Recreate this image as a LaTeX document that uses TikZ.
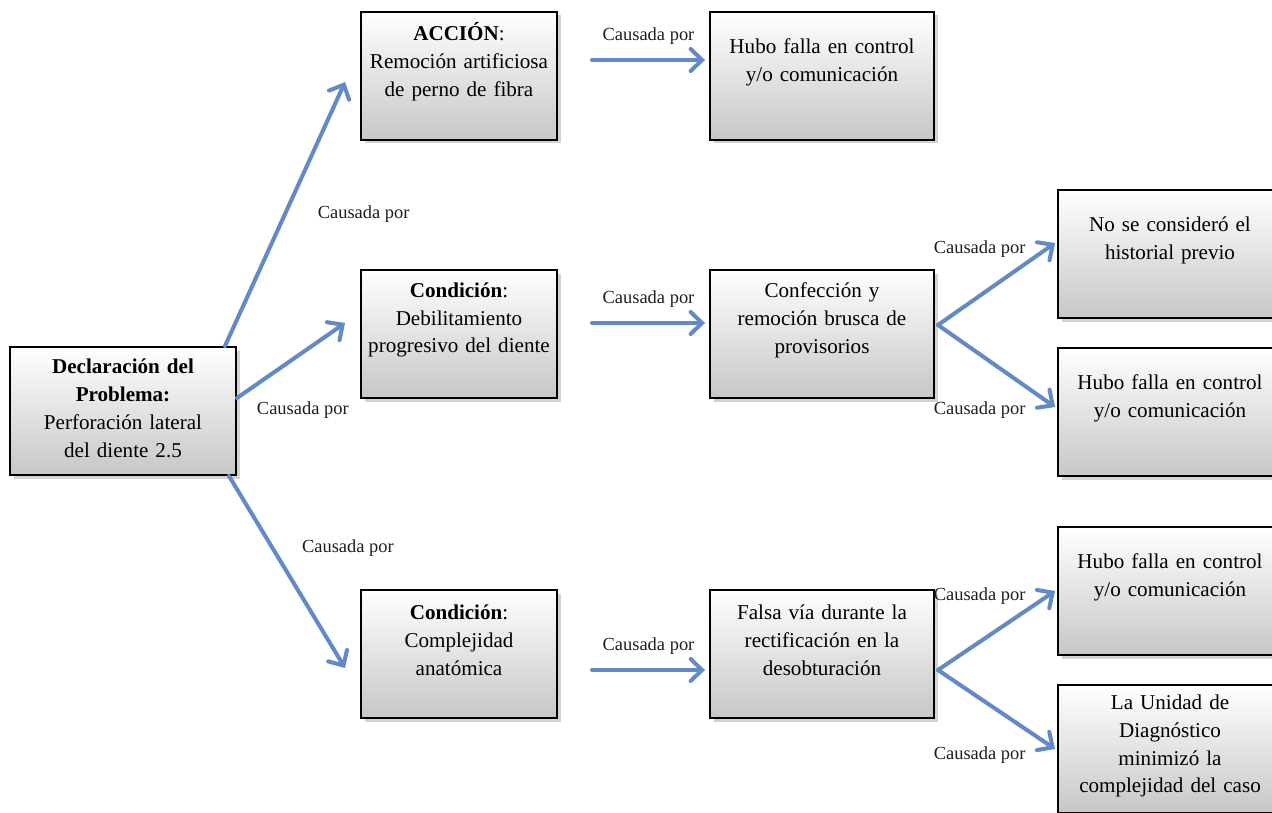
\documentclass[tikz,border=0pt]{standalone}
\usepackage{fontspec}
\setmainfont{Liberation Serif}
\usetikzlibrary{arrows.meta,shadows}
\definecolor{causeblue}{RGB}{98,138,198}
\definecolor{labelink}{RGB}{30,30,30}
\tikzset{
  boxpad/.store in=\boxpad, boxpad=0.56cm,
  box/.style={draw=black, line width=1.1pt, top color=white, bottom color=black!22,
    drop shadow={shadow xshift=0.07cm, shadow yshift=-0.07cm, opacity=0.35},
    align=center, text width=#1, minimum height=2.56cm, inner xsep=0pt, inner ysep=0.05cm,
    font=\fontsize{12}{15.9}\selectfont, execute at end node={\par\kern\boxpad}},
  box/.default={4.48cm},
  arrow/.style={-{Straight Barb[length=2.3mm, width=4.4mm, line cap=round]}, line width=2.3pt, draw=causeblue, line cap=round},
  lbl/.style={font=\fontsize{10.5}{12}\selectfont, text=labelink, inner sep=1pt}
}
\begin{document}
\begin{tikzpicture}
  \clip (0,0) rectangle (25.44,16.24);
  % problem statement and first level
  \node[box=4.52cm, boxpad=0.12cm] (prob) at (2.46,8.02) {\textbf{Declaración del}\\ \textbf{Problema:}\\ Perforación lateral\\ del diente 2.5};
  \node[box=3.92cm] (accion) at (9.18,14.72) {\textbf{ACCIÓN}:\\ Remoción artificiosa\\ de perno de fibra};
  \node[box=3.92cm] (debil) at (9.18,9.56) {\textbf{Condición}:\\ Debilitamiento\\ progresivo del diente};
  \node[box=3.92cm] (compl) at (9.18,3.16) {\textbf{Condición}:\\ Complejidad\\ anatómica};
  % second level
  \node[box] (falla1) at (16.44,14.72) {Hubo falla en control\\ y/o comunicación};
  \node[box] (confec) at (16.44,9.56) {Confección y\\ remoción brusca de\\ provisorios};
  \node[box] (falsa) at (16.44,3.16) {Falsa vía durante la\\ rectificación en la\\ desobturación};
  % third level
  \node[box] (histo) at (23.4,11.16) {No se consideró el\\ historial previo};
  \node[box] (falla2) at (23.4,8.0) {Hubo falla en control\\ y/o comunicación};
  \node[box] (falla3) at (23.4,4.42) {Hubo falla en control\\ y/o comunicación};
  \node[box, boxpad=0.12cm] (unidad) at (23.4,1.26) {La Unidad de\\ Diagnóstico\\ minimizó la\\ complejidad del caso};
  % connectors
  \draw[arrow] ([xshift=-0.24cm]prob.north east) -- node[lbl, pos=0.5, anchor=west, xshift=0.58cm] {Causada por} ([shift={(-0.3cm,-0.12cm)}]accion.west);
  \draw[arrow] ([yshift=0.26cm]prob.east) -- node[lbl, pos=0.15, anchor=north west, yshift=-0.22cm] {Causada por} ([shift={(-0.3cm,0.22cm)}]debil.west);
  \draw[arrow] ([xshift=-0.16cm]prob.south east) -- node[lbl, pos=0.36, anchor=west, xshift=0.55cm, yshift=-0.06cm] {Causada por} ([shift={(-0.3cm,-0.28cm)}]compl.west);
  \draw[arrow] ([shift={(0.68cm,0.32cm)}]accion.east) -- node[lbl, anchor=south, yshift=0.24cm] {Causada por} ([shift={(-0.08cm,0.32cm)}]falla1.west);
  \draw[arrow] ([shift={(0.68cm,0.22cm)}]debil.east) -- node[lbl, anchor=south, yshift=0.24cm] {Causada por} ([shift={(-0.08cm,0.22cm)}]confec.west);
  \draw[arrow] ([shift={(0.68cm,-0.32cm)}]compl.east) -- node[lbl, anchor=south, yshift=0.24cm] {Causada por} ([shift={(-0.08cm,-0.32cm)}]falsa.west);
  \draw[arrow] ([shift={(0.06cm,0.18cm)}]confec.east) -- node[lbl, pos=0.78, anchor=south east] {Causada por} ([shift={(-0.04cm,0.22cm)}]histo.west);
  \draw[arrow] ([shift={(0.06cm,0.18cm)}]confec.east) -- node[lbl, pos=0.78, anchor=north east, yshift=-0.18cm] {Causada por} ([shift={(-0.04cm,0.1cm)}]falla2.west);
  \draw[arrow] ([shift={(0.06cm,-0.32cm)}]falsa.east) -- node[lbl, pos=0.78, anchor=south east] {Causada por} ([xshift=-0.04cm]falla3.west);
  \draw[arrow] ([shift={(0.06cm,-0.32cm)}]falsa.east) -- node[lbl, pos=0.78, anchor=north east, yshift=-0.22cm] {Causada por} ([xshift=-0.04cm]unidad.west);
\end{tikzpicture}
\end{document}
